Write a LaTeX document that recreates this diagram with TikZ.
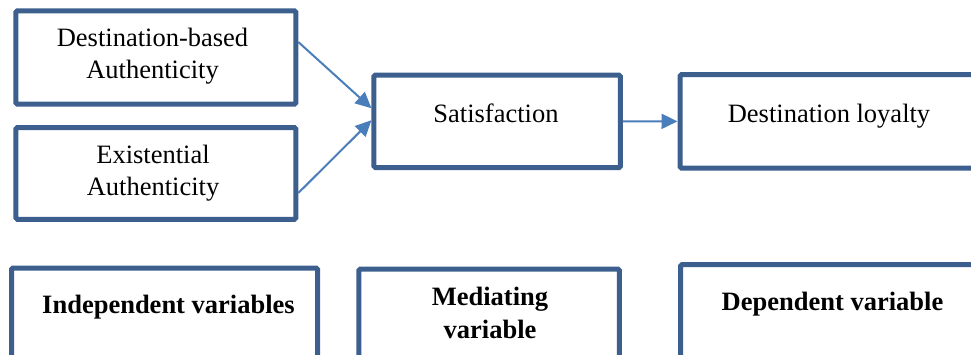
\documentclass[tikz,border=0pt]{standalone}
\usepackage{fontspec}
\setmainfont{Liberation Serif}
\usetikzlibrary{arrows.meta,calc}
\definecolor{boxblue}{HTML}{3C5F8E}
\definecolor{arrblue}{HTML}{4A7EBB}
\tikzset{arrowtip/.tip={Triangle[length=16pt,width=15pt]}}
\begin{document}
\begin{tikzpicture}[x=1pt,y=1pt,
  vbox/.style={draw=boxblue,line width=5pt,rounded corners=1.5pt,inner sep=0pt},
  lbl/.style={anchor=base,inner sep=0pt,align=center,font=\fontsize{26.5}{32}\selectfont},
  blbl/.style={lbl,font=\fontsize{26.5}{33}\selectfont\bfseries},
  arr/.style={draw=arrblue,fill=arrblue,line width=2pt,-arrowtip}]
\useasboundingbox (0,-354) rectangle (971,0);
\clip (0,-354) rectangle (971,0);
% boxes (centre-line sizes)
\node[vbox,minimum width=280pt,minimum height=93.4pt] (A) at (155.8,-57.5) {};
\node[vbox,minimum width=280pt,minimum height=91.7pt] (B) at (155.8,-173.4) {};
\node[vbox,minimum width=246.5pt,minimum height=92.5pt] (S) at (497.2,-121.25) {};
\node[vbox,minimum width=310pt,minimum height=93.3pt] (L) at (835,-121.35) {};
\node[vbox,minimum width=306pt,minimum height=100pt] (I) at (164.5,-318) {};
\node[vbox,minimum width=260.5pt,minimum height=100pt] (M) at (489.2,-319) {};
\node[vbox,minimum width=310pt,minimum height=104pt] (D) at (835.5,-316.7) {};
% texts (base = last line)
\node[lbl] (tA) at (152.5,-78) {Destination-based\\Authenticity};
\node[lbl] (tB) at (153,-195) {Existential\\Authenticity};
\node[lbl] (tS) at (496,-122) {Satisfaction};
\node[lbl] (tL) at (829,-122) {Destination loyalty};
\node[blbl] (tI) at (168.5,-313) {Independent variables};
\node[blbl] (tM) at (490,-338) {Mediating\\variable};
\node[blbl] (tD) at (832.5,-310) {Dependent variable};
% connectors
\draw[arr] ([yshift=15.5pt]A.east) -- ([yshift=13pt]S.west);
\draw[arr] ([yshift=-19.6pt]B.east) -- ([yshift=1pt]S.west);
\draw[arr] (S.east) -- (L.west);
\end{tikzpicture}
\end{document}
